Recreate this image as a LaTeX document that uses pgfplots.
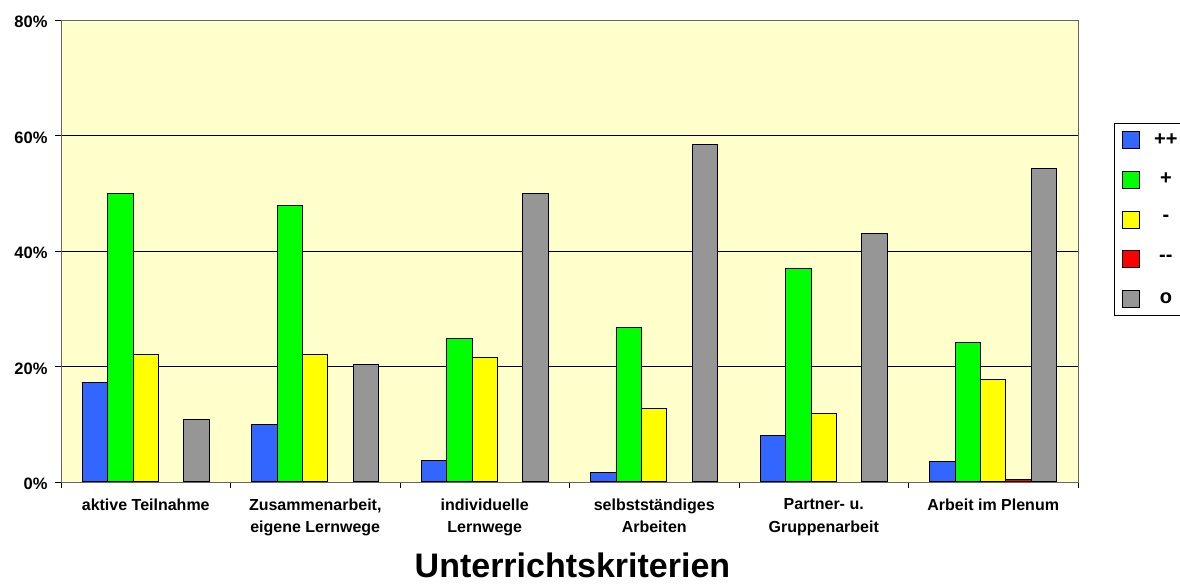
\documentclass[border=0pt]{standalone}
\usepackage{pgfplots}
\pgfplotsset{compat=1.18}
\usepackage{fontspec}
\setmainfont{Liberation Sans}
\definecolor{cblue}{HTML}{3366FF}
\definecolor{cgreen}{HTML}{00FF00}
\definecolor{cyellow}{HTML}{FFFF00}
\definecolor{cred}{HTML}{FF0000}
\definecolor{cgrey}{HTML}{969696}
\definecolor{bgyellow}{HTML}{FFFFCC}
\begin{document}
\begin{tikzpicture}[x=1pt,y=1pt]
\useasboundingbox (0,0) rectangle (1180,585);
\begin{axis}[
  at={(61pt,103pt)}, anchor=south west,
  scale only axis, width=1017pt, height=462pt,
  ybar=0pt, bar width=0.15,
  xmin=-0.5, xmax=5.5, ymin=0, ymax=80,
  axis background/.style={fill=bgyellow},
  axis line style={draw=gray!80!black, line width=0.8pt},
  xtick={0,...,5},
  xticklabels={{aktive Teilnahme},{Zusammenarbeit,\\eigene Lernwege},{individuelle\\Lernwege},{selbstständiges\\Arbeiten},{Partner- u.\\Gruppenarbeit},{Arbeit im Plenum}},
  xticklabel style={align=center, font=\fontsize{16}{22.5}\selectfont\bfseries, yshift=-7pt},
  major x tick style={draw=none},
  minor xtick={-0.5,0.5,...,5.5},
  minor x tick style={draw=black, line width=0.6pt},
  minor tick length=6pt,
  major tick length=6pt,
  tick align=outside,
  xtick pos=bottom, ytick pos=left,
  ytick={0,20,40,60,80},
  ytick style={draw=black, line width=0.6pt},
  /pgf/number format/assume math mode=true,
  yticklabel={\pgfmathprintnumber{\tick}\%},
  yticklabel style={font=\fontsize{16.5}{16.5}\selectfont\bfseries, xshift=-4pt, yshift=-2pt},
  ymajorgrids,
  major grid style={draw=black, line width=0.8pt},
  xlabel={Unterrichtskriterien},
  xlabel style={font=\fontsize{34}{34}\selectfont\bfseries, at={(axis description cs:0.5,0)}, anchor=base, xshift=3pt, yshift=-96pt},
  legend style={at={(axis description cs:1.0354,0.777)}, anchor=north west, draw=black, fill=white, line width=0.6pt,
     font=\fontsize{20}{20}\selectfont\bfseries, row sep=22pt, inner xsep=8pt, inner ysep=8pt},
  legend cell align=left,
  legend image code/.code={\draw[#1, draw=black, line width=0.6pt] (0pt,-8.5pt) rectangle (17pt,8.5pt);},
]
\addplot[fill=cblue, draw=black, line width=1pt] coordinates {(0,17.3) (1,9.9) (2,3.8) (3,1.6) (4,8.0) (5,3.5)};
\addplot[fill=cgreen, draw=black, line width=1pt] coordinates {(0,50.0) (1,47.8) (2,24.8) (3,26.8) (4,37.0) (5,24.1)};
\addplot[fill=cyellow, draw=black, line width=1pt] coordinates {(0,22.0) (1,22.0) (2,21.5) (3,12.8) (4,11.8) (5,17.8)};
\addplot[fill=cred, draw=black, line width=1pt] coordinates {(5,0.5)};
\addplot[fill=cgrey, draw=black, line width=1pt] coordinates {(0,10.9) (1,20.4) (2,50.0) (3,58.4) (4,43.0) (5,54.2)};
\legend{\makebox[48pt][c]{++},\makebox[48pt][c]{+},\makebox[48pt][c]{-},\makebox[48pt][c]{-{}-},\makebox[48pt][c]{o}}
\end{axis}
\end{tikzpicture}
\end{document}
